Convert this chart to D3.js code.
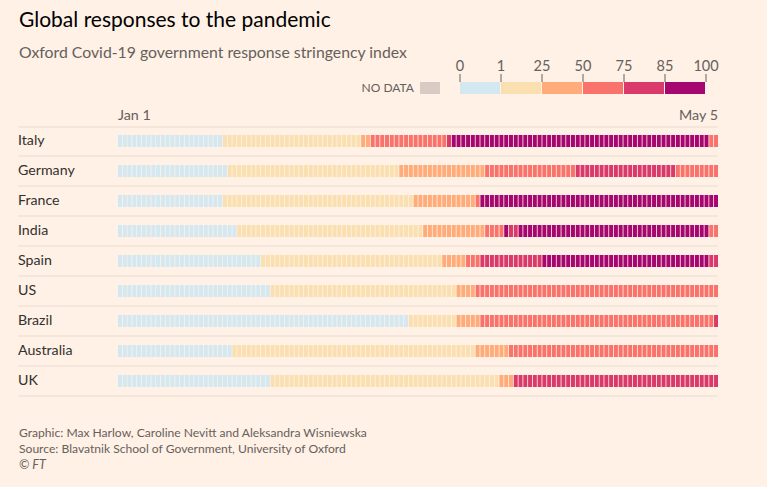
<!DOCTYPE html>
<html>
<head>
<meta charset="utf-8">
<script src="https://cdn.jsdelivr.net/npm/d3@7"></script>
<style>
  html, body { margin: 0; padding: 0; background: #fff1e5; }
  svg { display: block; font-family: Lato, sans-serif; }
</style>
</head>
<body>
<svg id="chart" width="767" height="487"></svg>
<script>
// band index per run: [band, number of days]
const countries = ["Italy", "Germany", "France", "India", "Spain", "US", "Brazil", "Australia", "UK"];
const italy = [[0, 22], [1, 29], [2, 2], [3, 16], [4, 1], [5, 54], [3, 2]];
const germany = [[0, 23], [1, 36], [2, 18], [3, 19], [4, 21], [3, 9]];
const france = [[0, 22], [1, 40], [2, 13], [3, 1], [5, 50]];
const india = [[0, 25], [1, 39], [2, 13], [3, 4], [5, 1], [4, 2], [5, 40], [3, 2]];
const spain = [[0, 30], [1, 38], [2, 5], [3, 3], [4, 13], [5, 35], [4, 2]];
const us = [[0, 32], [1, 39], [2, 4], [3, 51]];
const brazil = [[0, 61], [1, 10], [2, 5], [3, 49], [4, 1]];
const australia = [[0, 24], [1, 51], [2, 7], [3, 44]];
const uk = [[0, 32], [1, 48], [2, 3], [4, 43]];
const runs = [italy, germany, france, india, spain, us, brazil, australia, uk];

const bandTicks = ["0", "1", "25", "50", "75", "85", "100"];
const bandColors = ["#d4e8f1", "#fae0b1", "#ffab7a", "#f9726c", "#d93a6b", "#a50670"];
const numDays = 126;
const dateLabels = ["Jan 1", "May 5"];

const grey = "#66605c";
const svg = d3.select("#chart");

const x = d3.scaleBand().domain(d3.range(numDays)).range([118, 718]).paddingInner(0.17).paddingOuter(0);
const y = d3.scaleBand().domain(countries).range([127, 397]);

svg.append("text").attr("x", 19).attr("y", 27).attr("font-size", 21).attr("fill", "#000")
  .text("Global responses to the pandemic");
svg.append("text").attr("x", 19).attr("y", 58).attr("font-size", 15.8).attr("fill", grey)
  .text("Oxford Covid-19 government response stringency index");

// legend
const legendX = d3.scalePoint().domain(bandTicks).range([459.5, 705.5]);
const legendAxis = svg.append("g")
  .attr("transform", "translate(0,82)")
  .call(d3.axisTop(legendX).tickSize(8).tickPadding(3));
legendAxis.select(".domain").remove();
legendAxis.selectAll("line").attr("stroke", grey);
legendAxis.selectAll("text").attr("fill", grey).attr("font-size", 14.5).attr("font-family", "Lato, sans-serif");

svg.append("g").selectAll("rect")
  .data(bandColors)
  .join("rect")
  .attr("x", (d, i) => legendX(bandTicks[i]) + 0.5)
  .attr("y", 82)
  .attr("width", (d, i) => legendX(bandTicks[i + 1]) - legendX(bandTicks[i]) - 1)
  .attr("height", 12)
  .attr("fill", d => d);

svg.append("text").attr("x", 414).attr("y", 92).attr("text-anchor", "end")
  .attr("font-size", 12).attr("fill", grey).text("NO DATA");
svg.append("rect").attr("x", 420).attr("y", 82).attr("width", 20).attr("height", 12).attr("fill", "#d8cbc3");

// date labels
svg.append("text").attr("x", 118).attr("y", 120).attr("font-size", 14.3).attr("fill", grey).text(dateLabels[0]);
svg.append("text").attr("x", 718).attr("y", 120).attr("text-anchor", "end").attr("font-size", 14.3).attr("fill", grey).text(dateLabels[1]);

// row rules, the top one sits a pixel lower than the regular spacing
svg.append("g").selectAll("line")
  .data(d3.range(countries.length + 1))
  .join("line")
  .attr("x1", 18).attr("x2", 718)
  .attr("y1", i => i === 0 ? 127 : y(countries[i - 1]) + 29)
  .attr("y2", i => i === 0 ? 127 : y(countries[i - 1]) + 29)
  .attr("stroke", "#f4e6da").attr("stroke-width", 2);

// rows
const rowAxis = svg.append("g")
  .attr("transform", "translate(18,-2)")
  .call(d3.axisRight(y).tickSize(0).tickPadding(0));
rowAxis.select(".domain").remove();
rowAxis.selectAll("text").attr("fill", "#33302e").attr("font-size", 14.2).attr("font-family", "Lato, sans-serif");

const rows = svg.append("g").selectAll("g")
  .data(countries)
  .join("g")
  .attr("transform", d => `translate(0,${y(d) + 8})`);

rows.selectAll("rect")
  .data((d, i) => runs[i].flatMap(([band, n]) => d3.range(n).map(() => band)))
  .join("rect")
  .attr("x", (d, i) => x(i))
  .attr("y", 0)
  .attr("width", x.bandwidth())
  .attr("height", 12)
  .attr("fill", d => bandColors[d]);

// footer
const footer = ["Graphic: Max Harlow, Caroline Nevitt and Aleksandra Wisniewska",
  "Source: Blavatnik School of Government, University of Oxford"];
svg.append("g").selectAll("text")
  .data(footer)
  .join("text")
  .attr("x", 19).attr("y", (d, i) => 437 + i * 16)
  .attr("font-size", 12.1).attr("fill", grey)
  .text(d => d);
svg.append("text").attr("x", 19).attr("y", 469).attr("font-size", 12.5)
  .attr("font-style", "italic").attr("fill", grey).text("© FT");
</script>
</body>
</html>
